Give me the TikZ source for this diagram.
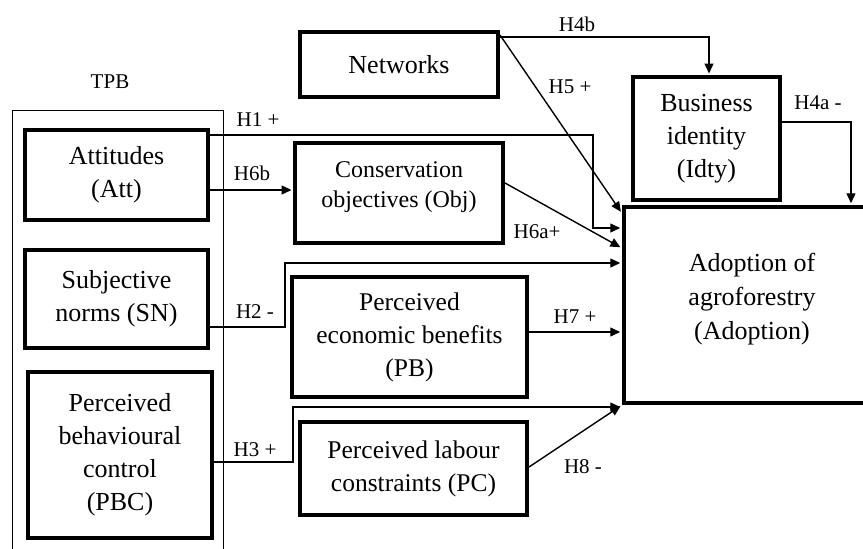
\documentclass[tikz,border=0pt]{standalone}
\usepackage{fontspec}
\setmainfont{Liberation Serif}
\usetikzlibrary{arrows.meta}
\begin{document}
\begin{tikzpicture}[x=1pt,y=-1pt,
  box/.style={draw,line width=4pt,inner sep=0pt,align=center,font=\fontsize{26}{33}\selectfont},
  bigbox/.style={draw,line width=4.5pt,inner sep=0pt,align=center,font=\fontsize{26}{34}\selectfont},
  conn/.style={line width=1.4pt,-{Triangle[length=10pt,width=9pt]},shorten >=1.5pt},
  lab/.style={font=\fontsize{21}{25}\selectfont,inner sep=0pt}]
\useasboundingbox[fill=white] (0,0) rectangle (863,549);
% TPB frame
\draw[line width=0.9pt] (12,560) -- (12,110) -- (223,110) -- (223,560);
\node[lab] (tpb) at (110,82) {TPB};
% boxes
\node[box,minimum width=183pt,minimum height=90pt] (att) at (116.5,175) {Attitudes\\(Att)};
\node[box,minimum width=183pt,minimum height=98pt] (sn) at (116.5,299) {Subjective\\norms (SN)};
\node[box,minimum width=184pt,minimum height=166pt] (pbc) at (120,455) {Perceived\\behavioural\\control\\(PBC)};
\node[box,minimum width=198pt,minimum height=65pt] (net) at (399,64.5) {Networks};
\node[box,minimum width=208pt,minimum height=100pt,font=\fontsize{24}{30}\selectfont] (obj) at (399,193) {Conservation\\objectives (Obj)\\[-14pt]};
\node[box,minimum width=235pt,minimum height=120pt,font=\fontsize{25.5}{33}\selectfont] (pb) at (409.5,337) {Perceived\\economic benefits\\(PB)};
\node[box,minimum width=227pt,minimum height=93pt,font=\fontsize{25.5}{33}\selectfont] (pc) at (413.5,468.5) {Perceived labour\\constraints (PC)};
\node[box,minimum width=147pt,minimum height=123pt] (idty) at (706.5,138.5) {Business\\identity\\(Idty)};
\node[bigbox,minimum width=256pt,minimum height=196pt] (adopt) at (752,305) {Adoption of\\agroforestry\\(Adoption)\\[-17pt]};
% connectors
\draw[conn] (att.east |- 0,135) -| (593,228) -- (adopt.west |- 0,228);
\draw[conn] (att.east |- 0,190) -- (obj.west |- 0,190);
\draw[conn] (net.east |- 0,35) -- (adopt.west |- 0,213);
\draw[conn] (net.east |- 0,37) -| ([xshift=2.5pt]idty.north);
\draw[conn] (idty.east |- 0,122) -| (adopt.north -| 851,0);
\draw[conn] (obj.east |- 0,183) -- (adopt.west |- 0,248);
\draw[conn] (sn.east |- 0,327) -- (285,327) -- (285,263) -- (adopt.west |- 0,263);
\draw[conn] (pb.east |- 0,332) -- (adopt.west |- 0,332);
\draw[conn] (pbc.east |- 0,462) -- (293,462) -- (293,407) -- (adopt.west |- 0,407);
\draw[conn] (pc.east |- 0,467) -- (adopt.south west);
% labels
\node[lab] (lh1) at (258,120) {H1 +};
\node[lab] (lh6b) at (252,173) {H6b};
\node[lab] (lh5) at (570,87) {H5 +};
\node[lab] (lh4b) at (577,24) {H4b};
\node[lab] (lh4a) at (818,103) {H4a -};
\node[lab] (lh6a) at (537,232) {H6a+};
\node[lab] (lh2) at (255,312) {H2 -};
\node[lab] (lh7) at (575,317) {H7 +};
\node[lab] (lh3) at (255,450) {H3 +};
\node[lab] (lh8) at (583,467) {H8 -};
\end{tikzpicture}
\end{document}
